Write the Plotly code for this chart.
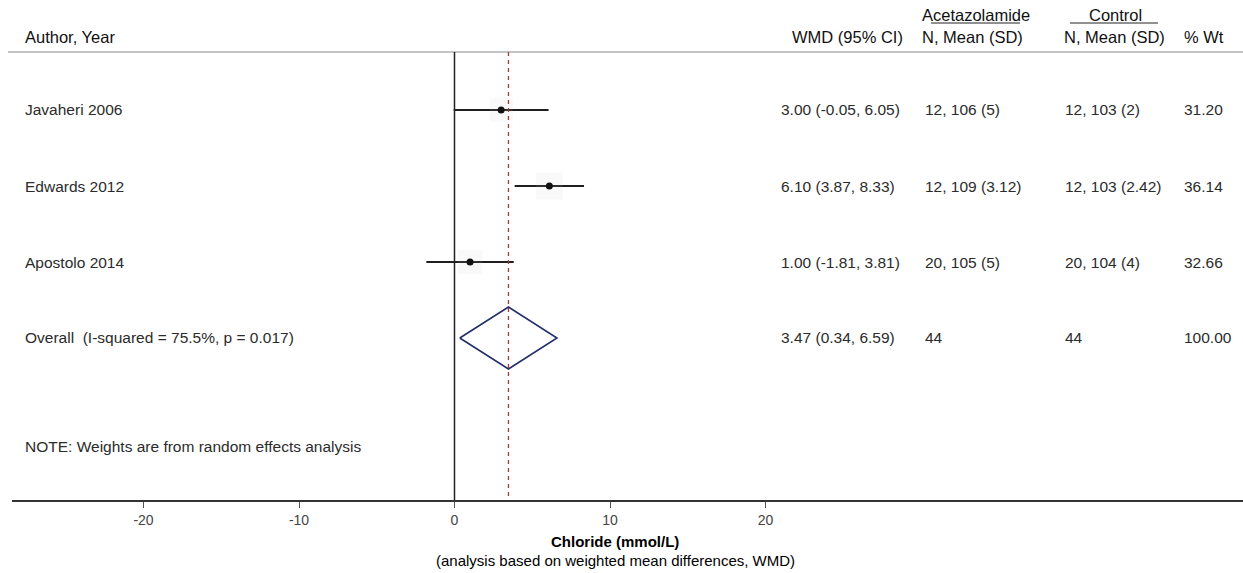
import plotly.graph_objects as go

# Study-level results (weighted mean difference in chloride, mmol/L)
studies = ["Javaheri 2006", "Edwards 2012", "Apostolo 2014"]
wmd = [3.00, 6.10, 1.00]
ci_lo = [-0.05, 3.87, -1.81]
ci_hi = [6.05, 8.33, 3.81]
acet_stats = ["12, 106 (5)", "12, 109 (3.12)", "20, 105 (5)"]
ctrl_stats = ["12, 103 (2)", "12, 103 (2.42)", "20, 104 (4)"]
weights = [31.20, 36.14, 32.66]

# Pooled (random effects) estimate
overall_wmd = 3.47
overall_lo = 0.34
overall_hi = 6.59
overall_acet_n = 44
overall_ctrl_n = 44
overall_weight = 100.00
i_squared = 75.5
p_het = 0.017

tick_vals = [-20, -10, 0, 10, 20]

W, H = 1243, 573
PLOT_BOTTOM = 500          # y of the x-axis line, in pixels from the top
AXIS_LEFT = 12             # x where the axis line starts
ROW_Y = [110, 186, 262]    # study rows
OVERALL_Y = 338
NOTE_Y = 446
HEADER_Y = 37
HEADER_LINE_Y = 52
DIAMOND_HALF = 31

# x range so that 0 sits at ~454 px and one unit is ~15.55 px
PX_PER_UNIT = 15.55
ZERO_PX = 454.5
x_range = [-(ZERO_PX - AXIS_LEFT) / PX_PER_UNIT, (W - ZERO_PX) / PX_PER_UNIT]

FONT = "Liberation Sans, Arial, Helvetica, sans-serif"
TXT = "#2b2b2b"


def px(x):
    return x / W


def py(y):
    # pixel row (from top) -> paper fraction of the plotting area
    return (PLOT_BOTTOM - y) / PLOT_BOTTOM


fig = go.Figure()

# confidence intervals
for i in range(len(studies)):
    fig.add_trace(go.Scatter(
        x=[ci_lo[i], ci_hi[i]], y=[ROW_Y[i], ROW_Y[i]],
        mode="lines", line=dict(color="#1e1e1e", width=2.2),
        hoverinfo="skip", showlegend=False))
# faint weight boxes
fig.add_trace(go.Scatter(
    x=wmd, y=ROW_Y, mode="markers",
    marker=dict(symbol="square", size=[w * 0.75 for w in weights],
                color="rgba(200,200,200,0.15)", line=dict(width=0)),
    hoverinfo="skip", showlegend=False))
# point estimates
fig.add_trace(go.Scatter(
    x=wmd, y=ROW_Y, mode="markers",
    marker=dict(symbol="circle", size=7, color="#111111"),
    hoverinfo="skip", showlegend=False))

# pooled diamond
fig.add_trace(go.Scatter(
    x=[overall_lo, overall_wmd, overall_hi, overall_wmd, overall_lo],
    y=[OVERALL_Y, OVERALL_Y - DIAMOND_HALF, OVERALL_Y,
       OVERALL_Y + DIAMOND_HALF, OVERALL_Y],
    mode="lines", line=dict(color="#23306b", width=1.6),
    hoverinfo="skip", showlegend=False))

shapes = [
    # header rule
    dict(type="line", xref="paper", yref="y", x0=px(8), x1=1, y0=HEADER_LINE_Y,
         y1=HEADER_LINE_Y, line=dict(color="#c4c4c4", width=2)),
    # line of no effect
    dict(type="line", xref="x", yref="y", x0=0, x1=0, y0=HEADER_LINE_Y,
         y1=PLOT_BOTTOM, line=dict(color="#222222", width=1.5)),
    # pooled estimate
    dict(type="line", xref="x", yref="y", x0=overall_wmd, x1=overall_wmd,
         y0=HEADER_LINE_Y, y1=PLOT_BOTTOM,
         line=dict(color="#a03a3a", width=1.3, dash="4px,4px")),
    # group header underlines
    dict(type="line", xref="paper", yref="y", x0=px(931), x1=px(1020), y0=23,
         y1=23, line=dict(color="#222222", width=1)),
    dict(type="line", xref="paper", yref="y", x0=px(1070), x1=px(1158), y0=23,
         y1=23, line=dict(color="#222222", width=1)),
]

ann = []


def text(x, y, s, size=15.5, anchor="left", color=TXT, bold=False):
    ann.append(dict(
        x=px(x), y=py(y), xref="paper", yref="paper",
        text=f"<b>{s}</b>" if bold else s,
        showarrow=False, xanchor=anchor, yanchor="middle",
        font=dict(family=FONT, size=size, color=color)))


# header
text(23, HEADER_Y, "Author, Year", size=16.5, color="#111")
text(905, HEADER_Y, "WMD (95% CI)", size=16.5, anchor="right", color="#111")
text(920, 15, "Acetazolamide", size=16.5, color="#111")
text(920, HEADER_Y, "N, Mean (SD)", size=16.5, color="#111")
text(1087, 15, "Control", size=16.5, color="#111")
text(1062, HEADER_Y, "N, Mean (SD)", size=16.5, color="#111")
text(1182, HEADER_Y, "% Wt", size=16.5, color="#111")

# study rows
for i, name in enumerate(studies):
    y = ROW_Y[i]
    text(23, y, name)
    text(779, y, f"{wmd[i]:.2f} ({ci_lo[i]:.2f}, {ci_hi[i]:.2f})")
    text(923, y, acet_stats[i])
    text(1063, y, ctrl_stats[i])
    text(1182, y, f"{weights[i]:.2f}")

# overall row
text(23, OVERALL_Y, f"Overall  (I-squared = {i_squared:.1f}%, p = {p_het:.3f})")
text(779, OVERALL_Y, f"{overall_wmd:.2f} ({overall_lo:.2f}, {overall_hi:.2f})")
text(923, OVERALL_Y, str(overall_acet_n))
text(1063, OVERALL_Y, str(overall_ctrl_n))
text(1182, OVERALL_Y, f"{overall_weight:.2f}")

text(23, NOTE_Y, "NOTE: Weights are from random effects analysis")

# axis titles
text(615, 541, "Chloride (mmol/L)", size=15, anchor="center", color="#000", bold=True)
text(615, 560, "(analysis based on weighted mean differences, WMD)", size=15,
     anchor="center", color="#000")

fig.update_layout(
    width=W, height=H,
    margin=dict(l=0, r=0, t=0, b=H - PLOT_BOTTOM),
    paper_bgcolor="white", plot_bgcolor="white",
    shapes=shapes, annotations=ann,
    xaxis=dict(range=x_range, domain=[AXIS_LEFT / W, 1], showgrid=False,
               zeroline=False, showline=True, linecolor="#333333", linewidth=1.5,
               tickvals=tick_vals, ticktext=[str(v) for v in tick_vals],
               ticks="outside", ticklen=6, tickcolor="#555555",
               tickfont=dict(family=FONT, size=14, color="#444444")),
    yaxis=dict(range=[PLOT_BOTTOM, 0], visible=False, showgrid=False,
               zeroline=False),
)

fig.write_html("out.html")
